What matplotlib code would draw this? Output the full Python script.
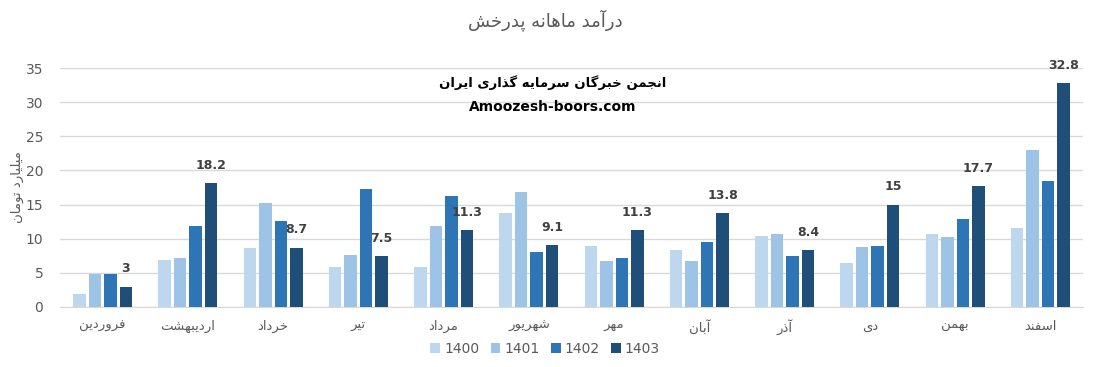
import numpy as np
import matplotlib
matplotlib.use("Agg")
import matplotlib.pyplot as plt

months = ["فروردین", "اردیبهشت", "خرداد", "تیر", "مرداد", "شهریور",
          "مهر", "آبان", "آذر", "دی", "بهمن", "اسفند"]
years = ["1400", "1401", "1402", "1403"]
y1400 = [1.9, 6.9, 8.7, 5.9, 5.9, 13.8, 8.9, 8.4, 10.4, 6.5, 10.7, 11.6]
y1401 = [4.9, 7.2, 15.3, 7.6, 11.9, 16.9, 6.7, 6.7, 10.7, 8.8, 10.3, 23.0]
y1402 = [4.9, 11.9, 12.6, 17.3, 16.3, 8.1, 7.2, 9.5, 7.5, 8.9, 12.9, 18.5]
y1403 = [3, 18.2, 8.7, 7.5, 11.3, 9.1, 11.3, 13.8, 8.4, 15, 17.7, 32.8]
colors = ["#BDD7EE", "#9DC3E6", "#2E75B6", "#1F4E79"]

title = "درآمد ماهانه پدرخش"
ylabel = "میلیارد تومان"
mark1 = "انجمن خبرگان سرمایه گذاری ایران"
mark2 = "Amoozesh-boors.com"

# matplotlib has no arabic shaping, so pick presentation forms by hand
# (isolated, final, initial, medial)
FORMS = {
    "ا": ("\uFE8D", "\uFE8E", None, None),
    "آ": ("\uFE81", "\uFE82", None, None),
    "ب": ("\uFE8F", "\uFE90", "\uFE91", "\uFE92"),
    "پ": ("\uFB56", "\uFB57", "\uFB58", "\uFB59"),
    "ت": ("\uFE95", "\uFE96", "\uFE97", "\uFE98"),
    "ج": ("\uFE9D", "\uFE9E", "\uFE9F", "\uFEA0"),
    "خ": ("\uFEA5", "\uFEA6", "\uFEA7", "\uFEA8"),
    "د": ("\uFEA9", "\uFEAA", None, None),
    "ذ": ("\uFEAB", "\uFEAC", None, None),
    "ر": ("\uFEAD", "\uFEAE", None, None),
    "س": ("\uFEB1", "\uFEB2", "\uFEB3", "\uFEB4"),
    "ش": ("\uFEB5", "\uFEB6", "\uFEB7", "\uFEB8"),
    "ف": ("\uFED1", "\uFED2", "\uFED3", "\uFED4"),
    "ل": ("\uFEDD", "\uFEDE", "\uFEDF", "\uFEE0"),
    "م": ("\uFEE1", "\uFEE2", "\uFEE3", "\uFEE4"),
    "ن": ("\uFEE5", "\uFEE6", "\uFEE7", "\uFEE8"),
    "ه": ("\uFEE9", "\uFEEA", "\uFEEB", "\uFEEC"),
    "و": ("\uFEED", "\uFEEE", None, None),
    "ی": ("\uFBFC", "\uFBFD", "\uFBFE", "\uFBFF"),
    "گ": ("\uFB92", "\uFB93", "\uFB94", "\uFB95"),
}


def fa(s):
    out = []
    for i, ch in enumerate(s):
        if ch not in FORMS:
            out.append(ch)
            continue
        f = FORMS[ch]
        prev = s[i - 1] if i > 0 else ""
        nxt = s[i + 1] if i < len(s) - 1 else ""
        jp = prev in FORMS and FORMS[prev][2] is not None
        jn = f[2] is not None and nxt in FORMS
        if jp and jn:
            out.append(f[3])
        elif jp:
            out.append(f[1])
        elif jn:
            out.append(f[2])
        else:
            out.append(f[0])
    return "".join(reversed(out))


plt.rcParams["font.family"] = ["DejaVu Sans"]
gray = "#595959"

fig = plt.figure(figsize=(10.97, 3.67), dpi=100)
ax = fig.add_axes([60 / 1097, 60 / 367, 1023 / 1097, 239 / 367])

x = np.arange(len(months))
w = 0.145
pitch = 0.182
series = [y1400, y1401, y1402, y1403]
bars = []
for k, vals in enumerate(series):
    b = ax.bar(x + (k - 1.5) * pitch, vals, width=w, color=colors[k],
               label=years[k], zorder=3)
    bars.append(b)

for rect, v in zip(bars[3], y1403):
    ax.annotate(f"{v:g}", (rect.get_x() + rect.get_width() / 2, v),
                xytext=(0, 8), textcoords="offset points", ha="center",
                va="bottom", fontsize=9, fontweight="bold", color="#404040")

ax.set_xlim(-0.5, 11.5)
ax.set_ylim(0, 35)
ax.set_yticks(range(0, 36, 5))
ax.yaxis.grid(True, color="#D9D9D9", linewidth=1, zorder=0)
for sp in ["top", "right", "left"]:
    ax.spines[sp].set_visible(False)
ax.spines["bottom"].set_color("#D9D9D9")
ax.tick_params(axis="both", length=0, colors=gray, labelsize=10)
ax.tick_params(axis="y", pad=12)
ax.tick_params(axis="x", pad=9, labelsize=9.5)
ax.set_xticks(x)
ax.set_xticklabels([fa(m) for m in months])

fig.text(0.497, 1 - 20 / 367, fa(title), ha="center", va="center",
         fontsize=13, color=gray)
fig.text(17 / 1097, 1 - 187 / 367, fa(ylabel), rotation=90, ha="center",
         va="center", fontsize=9.5, color=gray)
fig.text(553 / 1097, 1 - 83 / 367, fa(mark1), ha="center", va="center",
         fontsize=9.5, fontweight="bold", color="black")
fig.text(553 / 1097, 1 - 107 / 367, mark2, ha="center", va="center",
         fontsize=10, fontweight="bold", color="black")

fig.legend(handles=bars, labels=years, loc="center", ncol=4,
           bbox_to_anchor=(0.497, 1 - 349 / 367), frameon=False,
           fontsize=10, labelcolor=gray, handlelength=0.7, handleheight=0.7,
           handletextpad=0.3, columnspacing=0.8)

fig.savefig("out.png", dpi=100)
